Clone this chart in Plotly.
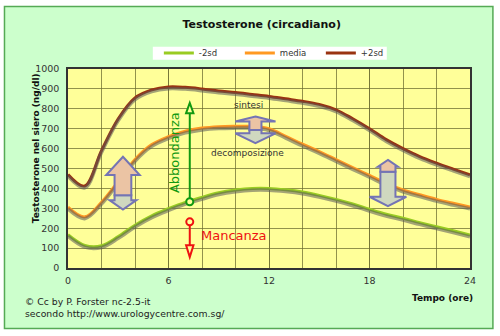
import plotly.graph_objects as go

# ---- data ----
hours = [0, 1, 2, 3, 4, 5, 6, 7, 8, 9, 10, 11, 12, 13, 14, 15, 16, 17, 18, 19, 20, 21, 22, 23, 24]
plus2sd = [470, 412, 590, 750, 855, 895, 910, 908, 900, 890, 882, 872, 862, 850, 838, 822, 795, 750, 700, 645, 600, 560, 527, 497, 468]
media = [306, 257, 330, 435, 545, 620, 660, 688, 703, 710, 712, 712, 700, 662, 622, 585, 545, 505, 465, 425, 392, 368, 345, 325, 306]
minus2sd = [168, 114, 112, 158, 215, 262, 298, 330, 355, 378, 392, 400, 400, 393, 382, 365, 345, 322, 295, 270, 250, 228, 207, 187, 166]

series_names = ["-2sd", "media", "+2sd"]
series_values = [minus2sd, media, plus2sd]
series_colors = ["#99cc22", "#ff9922", "#993311"]

x_ticks = [0, 6, 12, 18, 24]

FONT = "DejaVu Sans"

fig = go.Figure()

# shadows (same data, drawn on a slightly shifted overlay axis)
for vals in series_values:
    fig.add_trace(go.Scatter(x=hours, y=vals, mode="lines", yaxis="y2",
                             line=dict(color="rgba(90,90,90,0.55)", width=3.5, shape="spline", smoothing=1),
                             showlegend=False, hoverinfo="skip"))
for name, vals, col in zip(series_names, series_values, series_colors):
    fig.add_trace(go.Scatter(x=hours, y=vals, mode="lines", name=name,
                             line=dict(color=col, width=3, shape="spline", smoothing=1)))

shapes = []
# outer frame
shapes.append(dict(type="rect", xref="paper", yref="paper", x0=-0.158, x1=1.057, y0=-0.304, y1=1.314,
                   fillcolor="#ccffcc", line=dict(color="#55aa55", width=1.5), layer="below"))
# legend box
shapes.append(dict(type="rect", xref="paper", yref="paper", x0=0.211, x1=0.793, y0=1.047, y1=1.112,
                   fillcolor="white", line=dict(width=0), layer="below"))
# plot area background
shapes.append(dict(type="rect", xref="x domain", yref="y domain", x0=0, x1=1, y0=0, y1=1,
                   fillcolor="#ffff99", line=dict(width=0), layer="below"))

OUT = "#7474b4"
UPF = "#ebc4a4"
DNF = "#cfd8bf"


def arrow(cx, hw_up, sw, tip_up, base_up, mid, base_dn, tip_dn, hw_dn):
    up = (f"M{cx},{tip_up} L{cx+hw_up},{base_up} L{cx+sw},{base_up} L{cx+sw},{mid} "
          f"L{cx-sw},{mid} L{cx-sw},{base_up} L{cx-hw_up},{base_up} Z")
    dn = (f"M{cx-sw},{mid} L{cx+sw},{mid} L{cx+sw},{base_dn} L{cx+hw_dn},{base_dn} "
          f"L{cx},{tip_dn} L{cx-hw_dn},{base_dn} L{cx-sw},{base_dn} Z")
    return [dict(type="path", path=dn, fillcolor=DNF, line=dict(color=OUT, width=2), layer="above"),
            dict(type="path", path=up, fillcolor=UPF, line=dict(color=OUT, width=2), layer="above")]


shapes += arrow(3.28, 1.0, 0.5, 559, 467, 366, 341, 294, 0.8)
shapes += arrow(11.19, 1.2, 0.36, 761, 736, 694, 677, 627, 1.2)
shapes += arrow(19.1, 0.6, 0.45, 543, 509, 484, 358, 311, 1.1)

# Abbondanza arrow
GX = 7.27
shapes.append(dict(type="line", x0=GX, x1=GX, y0=350, y1=780, line=dict(color="#119911", width=2)))
shapes.append(dict(type="path", path=f"M{GX-0.22},778 L{GX},829 L{GX+0.22},778 Z",
                   fillcolor="#ffff99", line=dict(color="#119911", width=2)))
shapes.append(dict(type="circle", xsizemode="pixel", ysizemode="pixel", xanchor=GX, yanchor=333,
                   x0=-3.5, x1=3.5, y0=-3.5, y1=3.5, fillcolor="#ffff99", line=dict(color="#119911", width=2)))
# Mancanza arrow
shapes.append(dict(type="line", x0=GX, x1=GX, y0=215, y1=112, line=dict(color="#ee1111", width=2)))
shapes.append(dict(type="path", path=f"M{GX-0.22},114 L{GX},55 L{GX+0.22},114 Z",
                   fillcolor="#ffff99", line=dict(color="#ee1111", width=2)))
shapes.append(dict(type="circle", xsizemode="pixel", ysizemode="pixel", xanchor=GX, yanchor=232,
                   x0=-3.5, x1=3.5, y0=-3.5, y1=3.5, fillcolor="#ffff99", line=dict(color="#ee1111", width=2)))

annotations = [
    dict(text="Abbondanza", x=6.37, y=581, xref="x", yref="y", textangle=-90, showarrow=False,
         font=dict(family=FONT, size=13, color="#119911")),
    dict(text="Mancanza", x=7.85, y=164, xref="x", yref="y", xanchor="left", showarrow=False,
         font=dict(family=FONT, size=13, color="#ee1111")),
    dict(text="sintesi", x=10.8, y=820, xref="x", yref="y", showarrow=False,
         font=dict(family=FONT, size=9, color="#333333")),
    dict(text="decomposizione", x=10.7, y=580, xref="x", yref="y", showarrow=False,
         font=dict(family=FONT, size=9, color="#333333")),
    dict(text="<b>Testosterone nel siero (ng/dl)</b>", x=-0.095, y=0.601, xref="paper", yref="paper",
         textangle=-90, showarrow=False, font=dict(family=FONT, size=9, color="#111111")),
    dict(text="<b>Tempo (ore)</b>", x=1.012, y=-0.143, xref="paper", yref="paper", xanchor="right",
         yanchor="middle", yshift=-2,
         showarrow=False, font=dict(family=FONT, size=9, color="#111111")),
    dict(text="© Cc by P. Forster nc-2.5-it<br>secondo http://www.urologycentre.com.sg/",
         x=-0.113, y=-0.198, xref="paper", yref="paper", xanchor="left", yanchor="middle", align="left",
         showarrow=False, font=dict(family=FONT, size=9.3, color="#222222")),
]

GRID = "rgba(110,110,50,0.75)"

fig.update_layout(
    width=500, height=336,
    margin=dict(l=68, r=30, t=69, b=68),
    paper_bgcolor="white",
    plot_bgcolor="#ffff99",
    font=dict(family=FONT, size=9.5, color="#333333"),
    title=dict(text="<b>Testosterone (circadiano)</b>", x=0.482, xref="paper", y=1 - 24 / 336,
               yanchor="middle", xanchor="center", font=dict(family=FONT, size=11, color="#111111")),
    showlegend=True,
    legend=dict(orientation="h", x=0.226, xanchor="left", y=1.08, yanchor="middle",
                bgcolor="rgba(0,0,0,0)", font=dict(family=FONT, size=8.5, color="#333333"),
                entrywidth=36, entrywidthmode="pixels", itemwidth=30),
    xaxis=dict(range=[0, 24], tickvals=x_ticks, showgrid=True, gridcolor=GRID, gridwidth=1,
               minor=dict(dtick=2, showgrid=True, gridcolor=GRID, gridwidth=1),
               showline=True, linecolor="#333333", linewidth=1.5, mirror=True, zeroline=False,
               ticks="", ticklabelstandoff=3, fixedrange=True),
    yaxis=dict(range=[0, 1000], dtick=100, showgrid=True, gridcolor=GRID, gridwidth=1,
               showline=True, linecolor="#333333", linewidth=1.5, mirror=True, zeroline=False,
               ticks="", ticklabelstandoff=5),
    yaxis2=dict(range=[9, 1009], overlaying="y", visible=False, showgrid=False),
    shapes=shapes,
    annotations=annotations,
)

fig.write_html("out.html")
